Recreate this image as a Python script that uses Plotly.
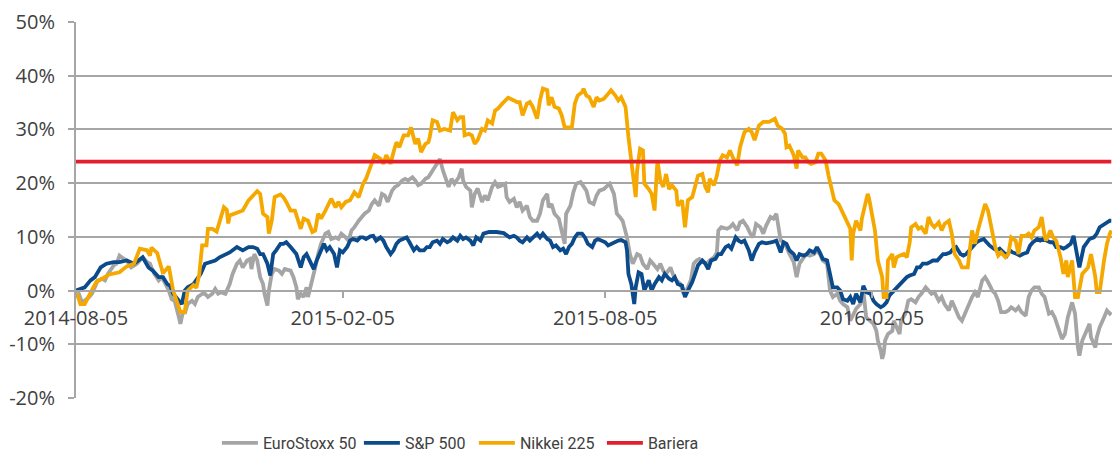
import pandas as pd
import plotly.graph_objects as go

start_date = "2014-08-05"
end_date = "2016-07-19"

# Series data: day offsets from start_date and % performance
euro_days = [0,2,4,6,9,11,13,15,18,20,22,26,28,30,33,35,38,42,46,49,51,54,57,59,61,64,66,68,71,72,74,75,77,80,82,84,87,89,91,94,96,98,100,103,105,
             106,108,111,113,115,118,120,121,123,125,127,129,130,132,133,135,137,140,142,144,148,150,152,153,155,157,159,160,163,165,167,169,172,174,176,179,181,183,186,188,190,192,195,197,199,202,204,206,209,211,213,215,218,220,222,225,227,229,232,234,236,238,241,243,
             246,249,251,253,256,257,259,261,264,266,267,269,272,273,275,277,280,282,284,287,289,291,294,296,297,299,302,304,306,308,311,313,315,318,320,322,325,326,328,330,333,335,337,338,341,343,345,348,350,352,354,357,359,361,364,366,368,371,373,375,377,380,382,384,387,389,391,
             394,396,398,401,403,405,407,410,412,414,417,419,421,424,426,428,430,433,435,437,440,442,443,445,449,451,453,456,458,460,463,465,467,469,472,474,476,479,481,483,486,488,490,492,495,497,499,502,504,506,509,511,513,515,518,520,522,525,527,529,532,534,536,538,541,543,
             545,548,550,552,553,555,556,557,558,560,563,564,566,568,569,572,574,576,579,581,583,586,588,590,592,595,597,599,602,604,606,609,611,613,615,618,620,622,625,627,629,632,634,636,638,641,643,645,648,650,652,655,657,659,661,664,666,668,671,673,675,678,680,682,684,687,689,691,692,694,697,699,700,703,704,706,709,711,713,714]
euro_vals = [0,-0.6,-2.2,-1.9,-1.2,-0.6,0.6,1.9,2.2,1.9,3.1,4.7,5.0,6.5,5.9,5.6,4.3,5.0,6.2,5.3,5.0,3.1,1.9,2.5,1.6,0.0,-1.6,-1.9,-5.0,-6.2,-3.7,-4.3,-2.5,-1.9,-2.5,-1.2,-0.6,-0.6,-1.2,-0.6,0.3,-0.6,-0.3,-0.6,0.6,
             1.2,3.1,5.0,5.6,4.3,5.6,5.9,4.0,6.8,5.6,2.5,1.2,-0.6,-2.8,0.0,3.1,4.0,3.7,3.1,4.0,3.7,2.5,0.6,-1.6,-0.6,-1.2,0.6,-1.2,1.9,4.3,6.8,8.7,10.6,10.9,9.6,9.9,9.6,10.6,9.9,9.3,11.2,11.8,13.0,13.7,14.3,14.9,16.1,16.8,15.8,18.0,17.7,16.5,18.6,19.3,19.6,20.5,20.8,20.5,21.1,20.5,19.6,19.9,20.8,21.1,
             22.4,23.6,24.5,22.4,20.2,19.3,20.8,19.9,21.1,22.7,20.5,19.3,18.6,15.5,18.0,19.0,16.5,17.7,16.8,19.3,20.2,19.3,19.6,19.9,17.4,16.5,17.1,15.5,16.5,14.9,15.8,13.7,13.0,13.0,14.3,16.8,18.0,15.5,16.1,14.3,13.4,10.6,8.7,14.3,15.8,18.3,19.9,20.2,19.3,18.6,16.5,16.1,17.7,18.6,18.9,19.3,19.9,18.0,14.3,13.7,13.0,9.9,6.8,5.0,6.8,6.5,5.0,
             4.0,5.6,5.0,4.0,5.0,3.7,3.1,4.3,2.8,1.9,1.2,-0.6,0.0,1.9,5.0,5.6,5.9,5.3,5.0,5.6,6.2,7.1,11.2,11.8,11.5,11.8,12.4,11.2,12.7,13.0,11.8,10.6,9.9,12.4,11.8,10.6,12.1,13.7,13.4,14.3,9.3,9.0,8.1,6.8,5.3,2.5,5.0,6.2,6.8,6.5,6.8,7.5,6.8,5.6,5.0,0.0,-1.2,-0.6,-1.9,-2.5,-3.1,-5.6,-4.3,-3.4,-2.5,0.0,
             -5.0,-5.6,-6.2,-7.5,-9.3,-11.2,-12.7,-11.8,-9.3,-8.1,-7.5,-5.6,-6.8,-8.1,-5.6,-4.3,-1.9,-1.6,-2.2,-1.2,-0.6,0.6,0.0,-0.6,-0.3,-1.9,-1.2,-2.5,-3.7,-1.9,-3.1,-5.0,-5.6,-4.3,-3.1,-1.2,-0.3,-1.2,1.9,2.5,1.6,0.0,-0.6,-1.9,-4.0,-4.0,-3.7,-3.1,-3.7,-3.1,-4.0,-4.7,-1.2,0.0,0.6,0.6,-0.6,-1.2,-4.3,-4.0,-5.0,-7.5,-9.0,-8.1,-5.0,-2.2,-4.3,-10.6,-12.1,-9.3,-7.5,-6.2,-8.7,-10.6,-8.7,-6.8,-5.0,-3.7,-4.3,-4.0]

sp_days = [0,3,6,10,13,17,21,26,30,35,40,46,50,53,57,60,63,65,67,71,73,75,77,81,86,89,92,96,99,104,
           106,111,115,119,122,125,127,129,132,134,136,138,141,143,145,148,150,152,155,157,159,161,164,166,168,171,173,175,178,180,182,184,187,189,191,194,196,198,200,203,205,207,210,212,214,217,219,221,223,226,228,230,233,235,237,240,242,
           244,246,249,251,253,256,258,260,263,265,267,269,272,274,276,279,281,285,290,295,299,302,304,306,308,311,313,315,318,320,322,325,327,329,331,334,336,338,340,342,344,346,349,351,353,356,358,360,363,365,367,369,372,374,376,379,380,381,383,385,386,388,390,392,
           395,397,399,402,404,406,409,411,413,415,418,420,422,425,427,429,432,434,436,438,441,443,445,448,450,452,455,457,459,461,464,466,468,471,473,476,480,483,486,488,490,492,495,497,499,502,504,506,509,511,513,515,518,520,522,525,527,529,532,534,536,538,541,
           543,545,548,550,552,555,557,559,561,564,566,568,571,573,575,578,580,582,584,587,589,591,594,596,598,600,603,605,607,610,612,614,617,619,621,623,626,628,630,633,635,637,640,642,644,646,649,651,653,656,658,660,663,665,667,669,672,674,676,679,681,683,686,688,690,692,695,697,699,702,704,706,709,711,713,714]
sp_vals = [0,0.3,0.6,1.9,2.5,4.3,5.0,5.3,5.3,5.6,5.0,6.2,4.3,3.7,2.5,2.5,1.2,0.9,-0.6,-1.9,-2.5,0.0,0.6,1.2,3.1,5.0,5.3,5.6,6.2,6.8,
           7.1,8.1,7.5,8.1,8.1,7.8,6.8,6.8,5.0,2.8,6.8,7.5,8.7,8.7,9.0,8.1,7.5,6.8,4.3,6.2,6.8,5.6,4.0,5.6,6.8,8.7,7.5,8.1,6.8,4.3,7.5,7.1,8.1,9.3,9.6,9.3,9.9,9.9,9.6,10.1,10.2,9.3,9.9,9.3,8.1,6.8,7.5,8.7,9.3,9.6,9.9,9.0,7.5,8.1,7.5,7.5,8.1,
           8.1,9.0,9.3,8.7,9.6,9.0,9.3,9.9,9.3,10.2,9.6,9.9,9.3,8.4,9.9,9.3,10.6,10.9,10.9,10.7,9.9,10.2,9.9,9.3,9.0,9.9,9.3,9.9,10.6,9.9,10.6,9.6,9.3,8.1,8.4,7.5,7.8,6.8,8.1,8.7,9.9,10.6,10.6,9.9,8.7,8.1,9.3,9.6,9.3,9.0,8.4,8.7,9.0,9.3,9.4,9.0,7.5,3.1,1.2,-2.5,0.6,3.4,3.1,0.0,
           1.9,0.0,1.2,2.5,1.9,3.1,2.2,1.9,2.5,1.2,0.9,-1.2,0.0,1.6,3.1,4.7,5.6,5.0,4.0,5.6,5.9,6.8,6.8,8.1,8.4,7.8,9.9,9.3,9.0,9.3,7.5,5.6,7.1,8.7,9.0,8.8,9.0,9.3,7.1,9.0,8.7,7.5,6.8,5.6,6.8,6.5,6.8,7.5,7.1,8.1,7.1,5.9,5.6,3.1,0.6,0.6,0.0,-1.6,-1.9,-1.2,-2.5,-0.6,-2.2,
           0.9,-0.3,-0.6,-1.9,-2.5,-3.1,-2.8,-2.2,-0.9,0.0,0.6,1.2,1.9,2.5,2.8,3.1,4.3,4.3,5.0,5.0,5.3,5.6,5.6,6.2,6.8,6.8,7.1,7.8,8.1,6.8,6.5,6.8,7.8,8.4,9.0,9.3,9.6,9.0,8.4,7.8,7.5,7.8,7.1,6.5,7.5,7.1,6.8,6.5,6.8,7.1,8.4,9.0,9.6,9.3,9.6,9.3,9.0,9.0,8.1,8.1,7.8,8.1,8.7,10.2,7.5,4.3,8.1,9.0,9.6,9.9,10.6,11.8,12.4,12.7,13.0,13.0]

nikkei_days = [0,3,6,10,14,23,30,35,40,44,49,51,52,56,58,60,64,67,72,75,77,81,83,85,87,90,91,94,97,99,102,104,105,
               106,115,119,125,127,129,132,133,135,137,141,143,145,148,151,155,157,160,163,165,167,169,172,174,176,179,181,183,186,189,192,195,198,200,203,206,210,212,214,217,219,221,223,226,229,231,234,236,238,241,243,
               244,246,249,251,254,258,260,263,265,267,268,271,273,275,277,280,282,284,287,289,291,294,296,298,302,304,306,308,311,313,315,318,320,322,325,326,328,330,333,335,337,340,342,344,346,349,350,352,354,357,359,361,364,366,369,372,374,376,379,381,383,386,387,389,
               391,392,395,397,399,401,403,405,407,409,411,414,415,418,420,422,425,427,429,432,434,436,437,440,442,444,446,449,451,453,456,458,461,464,466,468,471,474,478,480,482,484,487,489,490,492,495,497,498,501,503,505,507,510,512,514,517,519,521,523,526,528,530,532,534,535,536,538,541,542,544,
               546,547,549,551,553,556,557,559,560,563,564,566,568,571,573,575,576,579,581,583,586,588,590,592,595,597,599,602,604,606,609,611,613,615,618,620,622,625,627,629,632,634,636,638,641,643,645,648,650,652,655,657,659,661,664,666,668,669,672,674,676,679,681,683,684,687,689,691,694,696,698,700,703,704,706,709,711,713,714]
nikkei_vals = [0,-2.5,-2.5,-0.6,1.6,3.0,3.4,4.5,5.0,7.8,7.5,6.5,8.0,7.0,5.0,3.2,4.5,0.0,-4.0,-4.0,0.0,1.0,0.5,3.0,8.4,8.4,11.5,11.5,11.0,13.0,15.5,15.0,12.5,
               14.0,14.9,16.8,18.5,18.0,14.3,13.7,10.6,13.0,17.4,17.9,17.4,16.5,14.9,14.9,11.5,13.4,13.0,10.9,11.2,14.3,13.4,14.9,16.1,17.1,15.5,16.5,15.5,16.5,16.8,18.3,17.4,19.9,20.8,23.0,25.2,24.5,23.6,25.2,23.6,25.8,27.6,26.7,28.9,28.9,30.4,27.3,28.3,25.8,27.3,27.6,
               28.6,31.7,31.4,29.8,30.1,29.8,33.2,31.7,32.3,32.3,28.9,29.2,28.9,27.3,28.0,30.1,29.8,31.7,31.1,33.5,33.9,34.8,35.4,35.9,35.4,35.1,35.1,32.6,34.8,35.1,34.2,32.0,35.4,37.6,37.3,34.5,36.0,34.2,33.9,32.6,30.4,30.4,30.4,34.8,36.3,36.9,37.6,36.3,36.0,34.2,36.0,35.4,35.7,36.3,37.3,36.3,35.4,36.0,34.2,28.6,24.2,17.4,22.4,26.4,
               26.1,19.9,18.9,18.0,14.9,24.2,20.5,19.3,21.7,18.9,19.6,18.6,15.8,16.8,11.8,16.8,17.4,19.6,21.4,21.7,19.3,18.3,20.8,19.6,21.4,24.2,25.2,24.8,26.1,24.8,23.3,26.7,29.5,30.1,29.5,28.0,30.7,31.4,31.4,31.7,32.0,30.7,30.1,29.2,26.7,27.0,25.2,22.7,26.1,24.8,24.8,23.9,23.6,23.9,25.5,25.5,24.2,21.4,19.3,16.8,16.1,14.9,14.0,12.4,11.5,5.6,10.6,13.0,11.2,13.4,15.5,
               18.0,17.1,13.7,11.2,5.6,2.5,-1.2,-1.2,5.6,6.8,4.3,6.2,6.5,6.8,6.2,9.0,11.8,12.4,11.5,11.8,10.6,13.7,12.4,11.8,12.7,11.2,12.4,13.0,10.6,6.8,5.6,4.3,4.3,4.3,11.2,8.7,11.2,14.3,16.1,14.9,11.2,8.1,6.5,7.1,6.2,6.8,9.9,9.3,6.8,10.2,10.2,10.6,9.9,11.2,11.8,13.7,10.2,9.3,11.2,9.9,9.3,6.2,3.1,5.6,2.5,5.6,-1.2,-1.2,3.1,3.7,4.3,6.8,2.5,-0.3,-0.3,5.6,8.7,10.6,11.2]

barrier_level = 24

series_names = ["EuroStoxx 50", "S&P 500", "Nikkei 225", "Bariera"]
series_colors = ["#A5A5A5", "#0B4A8B", "#F5A800", "#E31E2D"]

x_tick_dates = ["2014-08-05", "2015-02-05", "2015-08-05", "2016-02-05"]
y_tick_vals = [-20, -10, 0, 10, 20, 30, 40, 50]
y_tick_text = ["-20%", "-10%", "0%", "10%", "20%", "30%", "40%", "50%"]


def to_dates(days):
    return pd.Timestamp(start_date) + pd.to_timedelta(days, unit="D")


legend_widths = [91, 64, 77, 60]

fig = go.Figure()
for name, color, days, vals, lw in [
    (series_names[0], series_colors[0], euro_days, euro_vals, legend_widths[0]),
    (series_names[1], series_colors[1], sp_days, sp_vals, legend_widths[1]),
    (series_names[2], series_colors[2], nikkei_days, nikkei_vals, legend_widths[2]),
]:
    fig.add_trace(go.Scatter(x=to_dates(days), y=vals, mode="lines", name=name,
                             legendwidth=lw, line=dict(color=color, width=3.8)))

fig.add_trace(go.Scatter(x=[pd.Timestamp(start_date), pd.Timestamp(end_date)],
                         y=[barrier_level, barrier_level], mode="lines",
                         name=series_names[3], legendwidth=legend_widths[3],
                         line=dict(color=series_colors[3], width=3.8)))

axis_grey = "#A6A6A6"
text_grey = "#404040"

fig.update_layout(
    width=1112, height=454,
    margin=dict(l=76, r=0, t=22, b=56, autoexpand=False),
    paper_bgcolor="white", plot_bgcolor="white",
    font=dict(family="Open Sans, sans-serif", size=20, color=text_grey),
    showlegend=True,
    legend=dict(orientation="h", x=0.136, xanchor="left", y=-0.1197, yanchor="middle",
                font=dict(family="Roboto, sans-serif", size=16, color=text_grey),
                itemwidth=36, entrywidthmode="pixels",
                bgcolor="rgba(0,0,0,0)", borderwidth=0),
    xaxis=dict(type="date", range=[start_date, end_date + " 12:00"],
               tickmode="array", tickvals=x_tick_dates, ticktext=x_tick_dates,
               anchor="free", position=20 / 70,
               showline=True, linecolor=axis_grey, linewidth=2,
               ticks="outside", ticklen=6, tickcolor=axis_grey, tickwidth=1.5,
               showgrid=False, zeroline=False,
               tickfont=dict(size=20, color=text_grey), ticklabelstandoff=3),
    yaxis=dict(range=[-20, 50], tickmode="array", tickvals=y_tick_vals, ticktext=y_tick_text,
               showgrid=True, gridcolor=axis_grey, gridwidth=1.5,
               showline=True, linecolor=axis_grey, linewidth=2,
               ticks="outside", ticklen=6, tickcolor=axis_grey, tickwidth=1.5,
               zeroline=False, tickfont=dict(size=20, color=text_grey), ticklabelstandoff=9),
)

fig.write_html("out.html", config={"displayModeBar": False},
               post_script="document.body.style.margin='0';")
